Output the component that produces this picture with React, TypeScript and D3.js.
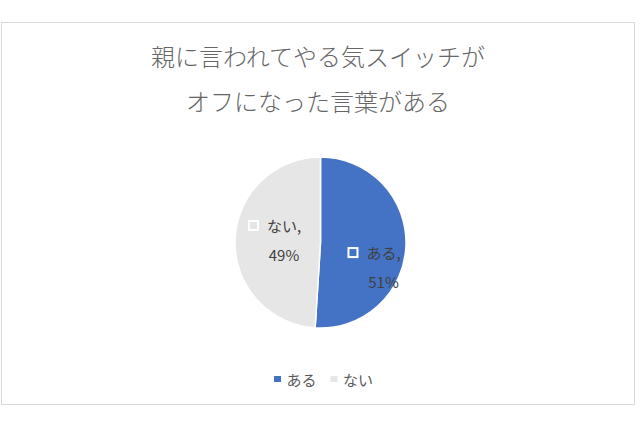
import React, { useMemo } from 'react';
import * as d3 from 'd3';

const titleLines = ['親に言われてやる気スイッチが', 'オフになった言葉がある'];
const categories = ['ある', 'ない'];
const shares = [51, 49];
const sliceColors = ['#4472C4', '#E7E6E6'];

const W = 640;
const H = 426;
const FONT = '"Noto Sans CJK JP", "Noto Sans", sans-serif';

// nudges so the data labels sit where Excel put them
const labelNudge: Record<string, [number, number]> = {
  'ある': [5, 23],
  'ない': [5.5, -1],
};

export default function App() {
  const cx = 320.5;
  const cy = 242.5;
  const radius = 85.5;

  const slices = useMemo(() => {
    const pie = d3.pie<number>().sort(null).value(d => d);
    return pie(shares);
  }, []);

  const arc = d3.arc<d3.PieArcDatum<number>>().innerRadius(0).outerRadius(radius);
  const labelArc = d3.arc<d3.PieArcDatum<number>>().innerRadius(50).outerRadius(50);

  const legendX = d3.scalePoint<string>().domain(categories).range([277.5, 334]);

  return (
    <svg
      width={W}
      height={H}
      style={{ position: 'absolute', left: 0, top: 0, background: '#fff' }}
      fontFamily={FONT}
    >
      <rect x={1.5} y={22.5} width={633} height={382} fill="#fff" stroke="#D9D9D9" strokeWidth={1} />

      {titleLines.map((t, i) => (
        <text
          key={t}
          x={318}
          y={55 + i * 45}
          textAnchor="middle"
          dominantBaseline="central"
          fontSize={24}
          fontWeight={300}
          fill="#666666"
        >
          {t}
        </text>
      ))}

      <g transform={`translate(${cx},${cy})`}>
        {slices.map((s, i) => (
          <path key={categories[i]} d={arc(s) || ''} fill={sliceColors[i]} stroke="#fff" strokeWidth={1.5} />
        ))}
        {slices.map((s, i) => {
          const [lx, ly] = labelArc.centroid(s);
          const [nx, ny] = labelNudge[categories[i]];
          const ax = lx + nx;
          const ay = ly + ny;
          return (
            <g key={'lbl' + categories[i]} fill="#404040" fontSize={15}>
              <rect
                x={ax - 27}
                y={ay - 19}
                width={9}
                height={9}
                fill={sliceColors[i]}
                stroke="#fff"
                strokeWidth={2}
              />
              <text x={ax - 9} y={ay - 14.5} dominantBaseline="central">
                {categories[i]},
              </text>
              <text x={ax + 8} y={ay + 14.5} textAnchor="middle" dominantBaseline="central">
                {shares[i]}%
              </text>
            </g>
          );
        })}
      </g>

      {categories.map((c, i) => (
        <g key={'leg' + c}>
          <rect
            x={(legendX(c) || 0) - 3.5}
            y={376}
            width={7}
            height={6}
            fill={sliceColors[i]}
          />
          <text
            x={(legendX(c) || 0) + 9}
            y={379}
            dominantBaseline="central"
            fontSize={15}
            fill="#595959"
          >
            {c}
          </text>
        </g>
      ))}
    </svg>
  );
}
